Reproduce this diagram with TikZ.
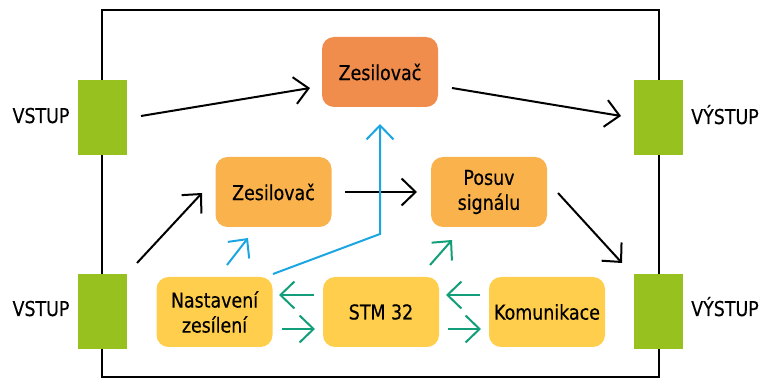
\documentclass[tikz,border=0pt]{standalone}
\usepackage{fontspec}
\setmainfont{DejaVu Sans}[FakeStretch=0.85,FakeBold=0.4]
\usetikzlibrary{arrows.meta}

\definecolor{ampdark}{RGB}{240,140,76}
\definecolor{ampmid}{RGB}{250,178,76}
\definecolor{ctrl}{RGB}{255,206,76}
\definecolor{port}{RGB}{150,193,31}
\definecolor{bluearr}{RGB}{27,166,226}
\definecolor{tealarr}{RGB}{17,158,120}

\tikzset{
  block/.style={rounded corners=12pt, minimum width=116pt, minimum height=70pt,
    inner sep=2pt, align=center, font=\fontsize{20.5}{25}\selectfont},
  portbox/.style={fill=port, minimum width=49pt, minimum height=75pt, inner sep=0pt},
  portlabel/.style={anchor=base, inner sep=0pt, font=\fontsize{20.5}{25}\selectfont},
  flow/.style={line width=2pt, -{Straight Barb[length=14pt,width=27pt]}},
  blackflow/.style={flow, black},
  blueflow/.style={flow, bluearr},
  tealflow/.style={flow, tealarr},
}

\begin{document}
\begin{tikzpicture}[x=1pt, y=-1pt]
\useasboundingbox (0,0) rectangle (761,379);

% enclosure
\node[draw, line width=2pt, minimum width=557pt, minimum height=367pt, inner sep=0pt]
  (frame) at (380.5,193.5) {};

% input / output ports
\node[portbox] (inA) at (102.5,117.5) {};
\node[portbox] (inB) at (102.5,312) {};
\node[portbox] (outA) at (658,117.5) {};
\node[portbox] (outB) at (658,312) {};
\node[portlabel] (inAlbl) at (41,123) {VSTUP};
\node[portlabel] (inBlbl) at (41,316) {VSTUP};
\node[portlabel] (outAlbl) at (725,124) {VÝSTUP};
\node[portlabel] (outBlbl) at (725,316) {VÝSTUP};

% processing blocks
\node[block, fill=ampdark] (amp0) at (380,72) {Zesilovač};
\node[block, fill=ampmid] (amp1) at (273.5,192) {Zesilovač};
\node[block, fill=ampmid] (shift) at (489,192) {Posuv\\signálu};
\node[block, fill=ctrl] (gain) at (214.5,312) {Nastavení\\zesílení};
\node[block, fill=ctrl] (mcu) at (381,312) {STM 32};
\node[block, fill=ctrl] (comm) at (547,312) {Komunikace};

% connector end points
\coordinate (p1s) at (141,116);  \coordinate (p1e) at (310,88);
\coordinate (p2s) at (452,88);   \coordinate (p2e) at (621,116);
\coordinate (p3s) at (137,263);  \coordinate (p3e) at (202,193);
\coordinate (p4s) at (345,192);  \coordinate (p4e) at (417,192);
\coordinate (p5s) at (558,193);  \coordinate (p5e) at (622,263);
\coordinate (b1s) at (227,265);  \coordinate (b1e) at (248,238);
\coordinate (b2s) at (273,274);  \coordinate (b2m) at (380,234);
\coordinate (b2e) at (380,124);
\coordinate (g1s) at (314,295);  \coordinate (g1e) at (279,295);
\coordinate (g2s) at (282,329);  \coordinate (g2e) at (315,329);
\coordinate (g3s) at (480,295);  \coordinate (g3e) at (446,295);
\coordinate (g4s) at (448,329);  \coordinate (g4e) at (481,329);
\coordinate (g5s) at (430,265);  \coordinate (g5e) at (452,240);

% signal path
\draw[blackflow] (p1s) -- (p1e);
\draw[blackflow] (p2s) -- (p2e);
\draw[blackflow] (p3s) -- (p3e);
\draw[blackflow] (p4s) -- (p4e);
\draw[blackflow] (p5s) -- (p5e);

% gain control
\draw[blueflow] (b1s) -- (b1e);
\draw[blueflow] (b2s) -- (b2m) -- (b2e);

% microcontroller links
\draw[tealflow] (g1s) -- (g1e);
\draw[tealflow] (g2s) -- (g2e);
\draw[tealflow] (g3s) -- (g3e);
\draw[tealflow] (g4s) -- (g4e);
\draw[tealflow] (g5s) -- (g5e);
\end{tikzpicture}
\end{document}
